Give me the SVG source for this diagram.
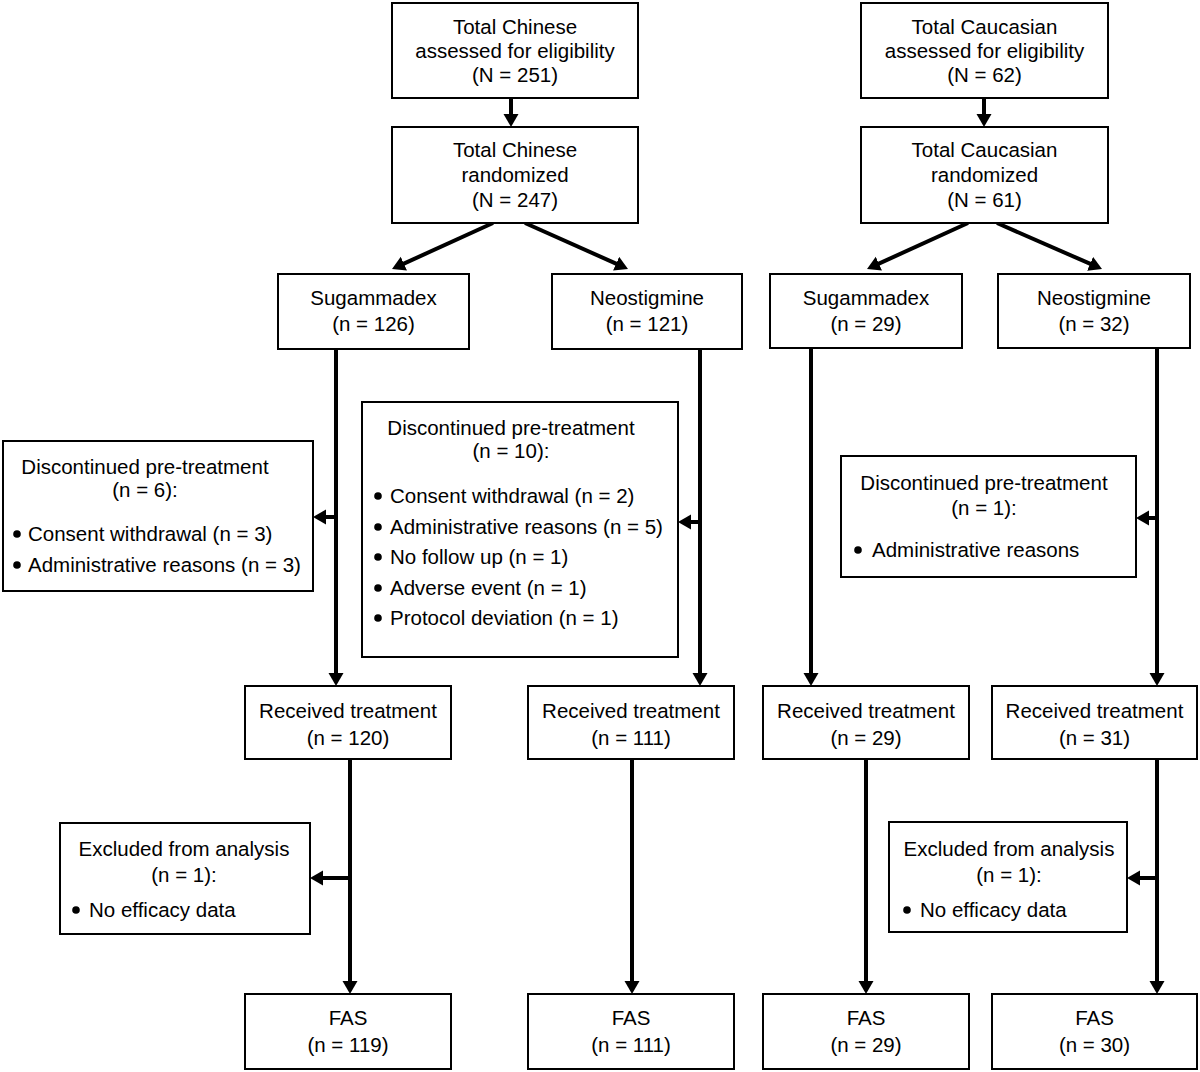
<svg xmlns="http://www.w3.org/2000/svg" width="1200" height="1072" viewBox="0 0 1200 1072">
<style>
.box{fill:#fff;stroke:#000;stroke-width:2}
.t{font-family:"Liberation Sans",Arial,sans-serif;font-size:20.5px;fill:#000}
.c{text-anchor:middle}
.ln{stroke:#000;stroke-width:4;fill:none}
.ar{marker-end:url(#ah)}
</style>
<defs>
<marker id="ah" markerUnits="userSpaceOnUse" markerWidth="14" markerHeight="16" refX="6" refY="7.5" orient="auto">
<path d="M0,0 L13,7.5 L0,15 z" fill="#000"/>
</marker>
</defs>
<rect width="1200" height="1072" fill="#fff"/>

<g id="connectors">
<line class="ln ar" x1="511" y1="98" x2="511" y2="120"/>
<line class="ln ar" x1="493" y1="223" x2="398.4" y2="266.1"/>
<line class="ln ar" x1="525" y1="223" x2="621.6" y2="266.1"/>
<line class="ln ar" x1="984" y1="98" x2="984" y2="120"/>
<line class="ln ar" x1="968" y1="223" x2="873.4" y2="266.1"/>
<line class="ln ar" x1="997" y1="223" x2="1095.6" y2="266.2"/>

<line class="ln ar" x1="336" y1="349" x2="336" y2="679"/>
<line class="ln ar" x1="338" y1="517" x2="320" y2="517"/>
<line class="ln ar" x1="700" y1="349" x2="700" y2="679"/>
<line class="ln ar" x1="702" y1="522" x2="685" y2="522"/>
<line class="ln ar" x1="811" y1="348" x2="811" y2="679"/>
<line class="ln ar" x1="1157" y1="348" x2="1157" y2="679"/>
<line class="ln ar" x1="1159" y1="518" x2="1143" y2="518"/>

<line class="ln ar" x1="350" y1="759" x2="350" y2="987"/>
<line class="ln ar" x1="352" y1="878" x2="317" y2="878"/>
<line class="ln ar" x1="632" y1="759" x2="632" y2="987"/>
<line class="ln ar" x1="866" y1="759" x2="866" y2="987"/>
<line class="ln ar" x1="1157" y1="759" x2="1157" y2="987"/>
<line class="ln ar" x1="1159" y1="878" x2="1134" y2="878"/>
</g>

<g id="cn-assessed">
<rect class="box" x="392" y="3" width="246" height="95"/>
<text class="t c" x="515" y="34">Total Chinese</text>
<text class="t c" x="515" y="58">assessed for eligibility</text>
<text class="t c" x="515" y="82">(N = 251)</text>
</g>
<g id="cn-randomized">
<rect class="box" x="392" y="127" width="246" height="96"/>
<text class="t c" x="515" y="157">Total Chinese</text>
<text class="t c" x="515" y="182">randomized</text>
<text class="t c" x="515" y="207">(N = 247)</text>
</g>
<g id="ca-assessed">
<rect class="box" x="861" y="3" width="247" height="95"/>
<text class="t c" x="984.5" y="34">Total Caucasian</text>
<text class="t c" x="984.5" y="58">assessed for eligibility</text>
<text class="t c" x="984.5" y="82">(N = 62)</text>
</g>
<g id="ca-randomized">
<rect class="box" x="861" y="127" width="247" height="96"/>
<text class="t c" x="984.5" y="157">Total Caucasian</text>
<text class="t c" x="984.5" y="182">randomized</text>
<text class="t c" x="984.5" y="207">(N = 61)</text>
</g>

<g id="cn-sug">
<rect class="box" x="278" y="274" width="191" height="75"/>
<text class="t c" x="373.5" y="305">Sugammadex</text>
<text class="t c" x="373.5" y="331">(n = 126)</text>
</g>
<g id="cn-neo">
<rect class="box" x="552" y="274" width="190" height="75"/>
<text class="t c" x="647" y="305">Neostigmine</text>
<text class="t c" x="647" y="331">(n = 121)</text>
</g>
<g id="ca-sug">
<rect class="box" x="770" y="274" width="192" height="74"/>
<text class="t c" x="866" y="305">Sugammadex</text>
<text class="t c" x="866" y="331">(n = 29)</text>
</g>
<g id="ca-neo">
<rect class="box" x="998" y="274" width="192" height="74"/>
<text class="t c" x="1094" y="305">Neostigmine</text>
<text class="t c" x="1094" y="331">(n = 32)</text>
</g>

<g id="cn-sug-disc">
<rect class="box" x="3" y="441" width="310" height="150"/>
<text class="t c" x="145" y="474">Discontinued pre-treatment</text>
<text class="t c" x="145" y="497">(n = 6):</text>
<circle cx="17" cy="534" r="3.8"/>
<text class="t" x="28" y="541">Consent withdrawal (n = 3)</text>
<circle cx="17" cy="565" r="3.8"/>
<text class="t" x="28" y="572">Administrative reasons (n = 3)</text>
</g>
<g id="cn-neo-disc">
<rect class="box" x="362" y="402" width="316" height="255"/>
<text class="t c" x="511" y="435">Discontinued pre-treatment</text>
<text class="t c" x="511" y="458">(n = 10):</text>
<circle cx="378" cy="496" r="3.8"/>
<text class="t" x="390" y="503">Consent withdrawal (n = 2)</text>
<circle cx="378" cy="527" r="3.8"/>
<text class="t" x="390" y="534">Administrative reasons (n = 5)</text>
<circle cx="378" cy="557" r="3.8"/>
<text class="t" x="390" y="564">No follow up (n = 1)</text>
<circle cx="378" cy="588" r="3.8"/>
<text class="t" x="390" y="595">Adverse event (n = 1)</text>
<circle cx="378" cy="618" r="3.8"/>
<text class="t" x="390" y="625">Protocol deviation (n = 1)</text>
</g>
<g id="ca-neo-disc">
<rect class="box" x="841" y="456" width="295" height="121"/>
<text class="t c" x="984" y="490">Discontinued pre-treatment</text>
<text class="t c" x="984" y="515">(n = 1):</text>
<circle cx="858" cy="550" r="3.8"/>
<text class="t" x="872" y="557">Administrative reasons</text>
</g>

<g id="cn-sug-rec">
<rect class="box" x="245" y="686" width="206" height="73"/>
<text class="t c" x="348" y="718">Received treatment</text>
<text class="t c" x="348" y="745">(n = 120)</text>
</g>
<g id="cn-neo-rec">
<rect class="box" x="528" y="686" width="206" height="73"/>
<text class="t c" x="631" y="718">Received treatment</text>
<text class="t c" x="631" y="745">(n = 111)</text>
</g>
<g id="ca-sug-rec">
<rect class="box" x="763" y="686" width="206" height="73"/>
<text class="t c" x="866" y="718">Received treatment</text>
<text class="t c" x="866" y="745">(n = 29)</text>
</g>
<g id="ca-neo-rec">
<rect class="box" x="992" y="686" width="205" height="73"/>
<text class="t c" x="1094.5" y="718">Received treatment</text>
<text class="t c" x="1094.5" y="745">(n = 31)</text>
</g>

<g id="cn-sug-excl">
<rect class="box" x="60" y="823" width="250" height="111"/>
<text class="t c" x="184" y="856">Excluded from analysis</text>
<text class="t c" x="184" y="882">(n = 1):</text>
<circle cx="76" cy="910" r="3.8"/>
<text class="t" x="89" y="917">No efficacy data</text>
</g>
<g id="ca-neo-excl">
<rect class="box" x="889" y="822" width="238" height="110"/>
<text class="t c" x="1009" y="856">Excluded from analysis</text>
<text class="t c" x="1009" y="882">(n = 1):</text>
<circle cx="907" cy="910" r="3.8"/>
<text class="t" x="920" y="917">No efficacy data</text>
</g>

<g id="cn-sug-fas">
<rect class="box" x="245" y="994" width="206" height="75"/>
<text class="t c" x="348" y="1025">FAS</text>
<text class="t c" x="348" y="1052">(n = 119)</text>
</g>
<g id="cn-neo-fas">
<rect class="box" x="528" y="994" width="206" height="75"/>
<text class="t c" x="631" y="1025">FAS</text>
<text class="t c" x="631" y="1052">(n = 111)</text>
</g>
<g id="ca-sug-fas">
<rect class="box" x="763" y="994" width="206" height="75"/>
<text class="t c" x="866" y="1025">FAS</text>
<text class="t c" x="866" y="1052">(n = 29)</text>
</g>
<g id="ca-neo-fas">
<rect class="box" x="992" y="994" width="205" height="75"/>
<text class="t c" x="1094.5" y="1025">FAS</text>
<text class="t c" x="1094.5" y="1052">(n = 30)</text>
</g>
</svg>
